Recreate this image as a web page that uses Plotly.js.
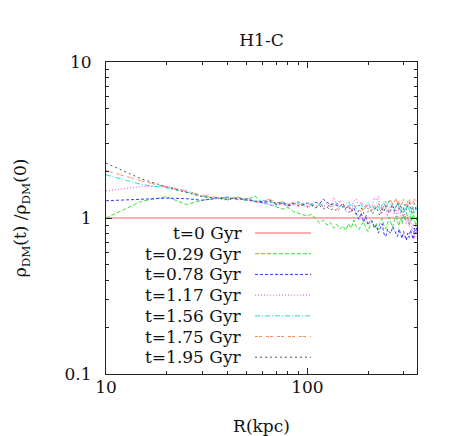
<!DOCTYPE html>
<html>
<head>
<meta charset="utf-8">
<script src="https://cdn.plot.ly/plotly-3.0.1.min.js"></script>
<style>html,body{margin:0;padding:0;background:#fff;}#chart{width:476px;height:436px;}</style>
</head>
<body>
<div id="chart"></div>
<script>
// Radius grid (kpc)
var radius = [
  10, 15, 20, 25, 30, 35, 40, 45, 50, 55,
  60, 65, 70, 75, 80, 85, 90, 95, 100, 105,
  110, 115, 120, 125, 130, 135, 140, 145, 150, 155,
  160, 165, 170, 175, 180, 185, 190, 195, 200, 205,
  210, 215, 220, 225, 230, 235, 240, 245, 250, 255,
  260, 265, 270, 275, 280, 285, 290, 295, 300, 305,
  310, 315, 320, 325, 330, 335, 340, 345, 350
];

var labels = ["t=0 Gyr", "t=0.29 Gyr", "t=0.78 Gyr", "t=1.17 Gyr", "t=1.56 Gyr", "t=1.75 Gyr", "t=1.95 Gyr"];

// t=0: reference profile, ratio 1 everywhere
var radius_t0 = [10, 350];
var ratio_t0 = [1, 1];

var ratio_t029 = [
  1.00, 1.28, 1.37, 1.22, 1.30, 1.34, 1.32, 1.36, 1.31, 1.38,
  1.25, 1.22, 1.18, 1.14, 1.17, 1.10, 1.08, 1.05, 1.03, 1.06,
  0.98, 0.93, 0.97, 0.90, 0.94, 0.86, 0.91, 0.85, 0.89, 0.83,
  0.92, 0.86, 0.97, 0.88, 0.84, 0.90, 0.95, 0.86, 0.82, 0.90,
  0.96, 0.87, 0.92, 0.84, 0.95, 0.99, 0.89, 0.85, 0.93, 1.01,
  0.93, 0.87, 0.96, 1.03, 0.94, 0.89, 1.00, 0.92, 1.06, 0.96,
  1.08, 0.98, 0.91, 1.04, 0.95, 1.10, 0.99, 0.88, 1.05
];

var ratio_t078 = [
  1.29, 1.32, 1.34, 1.33, 1.30, 1.33, 1.36, 1.31, 1.33, 1.28,
  1.25, 1.28, 1.22, 1.24, 1.19, 1.23, 1.27, 1.21, 1.25, 1.22,
  1.26, 1.24, 1.32, 1.26, 1.22, 1.23, 1.21, 1.18, 1.24, 1.15,
  1.20, 1.10, 1.16, 1.05, 0.98, 1.08, 0.94, 1.02, 0.90, 0.97,
  0.95, 0.86, 0.90, 0.80, 0.87, 0.92, 0.79, 0.76, 0.85, 0.81,
  0.80, 0.88, 0.84, 0.79, 0.76, 0.85, 0.80, 0.74, 0.82, 0.77,
  0.72, 0.80, 0.75, 0.84, 0.78, 0.73, 0.86, 0.79, 0.88
];

var ratio_t117 = [
  1.49, 1.59, 1.60, 1.49, 1.38, 1.34, 1.30, 1.36, 1.31, 1.26,
  1.27, 1.22, 1.20, 1.24, 1.19, 1.22, 1.18, 1.21, 1.17, 1.20,
  1.16, 1.22, 1.18, 1.24, 1.17, 1.36, 1.20, 1.30, 1.19, 1.15,
  1.22, 1.12, 1.28, 1.32, 1.18, 1.26, 1.22, 1.15, 1.24, 1.18,
  1.20, 1.35, 1.30, 1.38, 1.12, 1.08, 1.24, 1.15, 1.02, 1.18,
  1.10, 1.22, 1.05, 1.14, 0.98, 1.20, 1.08, 0.95, 1.12, 1.02,
  0.92, 1.05, 0.88, 0.98, 0.82, 0.92, 0.74, 0.86, 0.80
];

var ratio_t156 = [
  1.89, 1.64, 1.56, 1.47, 1.38, 1.33, 1.36, 1.32, 1.30, 1.28,
  1.30, 1.26, 1.24, 1.27, 1.22, 1.25, 1.21, 1.24, 1.20, 1.23,
  1.19, 1.24, 1.20, 1.17, 1.22, 1.18, 1.25, 1.20, 1.16, 1.22,
  1.28, 1.18, 1.22, 1.15, 1.20, 1.24, 1.12, 1.18, 1.26, 1.16,
  1.20, 1.13, 1.24, 1.18, 1.10, 1.22, 1.28, 1.16, 1.21, 1.30,
  1.18, 1.24, 1.12, 1.20, 1.27, 1.15, 1.10, 1.22, 1.18, 1.08,
  1.16, 1.24, 1.12, 1.05, 1.20, 1.14, 1.08, 1.18, 1.12
];

var ratio_t175 = [
  2.01, 1.73, 1.58, 1.49, 1.40, 1.36, 1.31, 1.35, 1.32, 1.27,
  1.28, 1.32, 1.25, 1.27, 1.22, 1.26, 1.23, 1.20, 1.24, 1.21,
  1.18, 1.22, 1.19, 1.16, 1.21, 1.17, 1.14, 1.19, 1.22, 1.15,
  1.18, 1.12, 1.16, 1.20, 1.13, 1.10, 1.17, 1.22, 1.14, 1.18,
  1.12, 1.20, 1.15, 1.24, 1.17, 1.11, 1.22, 1.28, 1.19, 1.25,
  1.30, 1.21, 1.26, 1.33, 1.22, 1.28, 1.18, 1.25, 1.32, 1.24,
  1.20, 1.28, 1.34, 1.22, 1.30, 1.25, 1.32, 1.26, 1.30
];

var ratio_t195 = [
  2.25, 1.78, 1.58, 1.46, 1.37, 1.35, 1.32, 1.34, 1.30, 1.28,
  1.27, 1.30, 1.24, 1.26, 1.21, 1.24, 1.20, 1.22, 1.18, 1.21,
  1.16, 1.20, 1.14, 1.18, 1.12, 1.16, 1.10, 1.15, 1.19, 1.12,
  1.08, 1.14, 1.10, 1.05, 1.12, 1.16, 1.08, 1.02, 1.10, 1.14,
  1.06, 1.12, 1.18, 1.08, 1.03, 1.15, 1.10, 1.20, 1.12, 1.07,
  1.16, 1.22, 1.10, 1.18, 1.25, 1.14, 1.20, 1.08, 1.16, 1.22,
  1.12, 1.20, 1.26, 1.15, 1.08, 1.18, 1.24, 1.14, 1.20
];

var colors = ["#f06060", "#33e633", "#3a3aff", "#ee44ee", "#22dddd", "#ff8a55", "#555555"];
var dashes = ["solid", "4px,2px", "3px,2px", "1px,2px", "5px,2px,1px,2px", "3px,1px,3px,4px", "2px,3px"];

var xs = [radius_t0, radius, radius, radius, radius, radius, radius];
var ys = [ratio_t0, ratio_t029, ratio_t078, ratio_t117, ratio_t156, ratio_t175, ratio_t195];

var traces = [];
for (var i = 0; i < ys.length; i++) {
  traces.push({
    x: xs[i], y: ys[i], type: "scatter", mode: "lines", name: labels[i],
    line: {color: colors[i], width: 1, dash: dashes[i]},
    showlegend: false, hoverinfo: "skip"
  });
}

// Legend drawn gnuplot-style: right-aligned label, sample line to its right
var annotations = [], shapes = [];
var rowTop = 233, rowStep = 20.7, plotTop = 62, plotH = 312, plotL = 106, plotW = 311;
for (var k = 0; k < labels.length; k++) {
  var ypx = rowTop + k * rowStep;
  var yp = 1 - (ypx - plotTop) / plotH;
  annotations.push({
    xref: "paper", yref: "paper", x: (244 - plotL) / plotW, y: yp,
    xanchor: "right", yanchor: "middle", text: labels[k], showarrow: false,
    font: {family: "DejaVu Serif", size: 17, color: "#111"}
  });
  shapes.push({
    type: "line", xref: "paper", yref: "paper",
    x0: (255 - plotL) / plotW, x1: (311 - plotL) / plotW, y0: yp, y1: yp,
    line: {color: colors[k], width: 1, dash: dashes[k]}
  });
}

var xMinor = [20, 30, 40, 50, 60, 70, 80, 90, 200, 300];
var yMinor = [0.2, 0.3, 0.4, 0.5, 0.6, 0.7, 0.8, 0.9, 2, 3, 4, 5, 6, 7, 8, 9];

var layout = {
  width: 476, height: 436,
  margin: {l: 106, r: 59, t: 62, b: 62},
  paper_bgcolor: "#fff", plot_bgcolor: "#fff",
  font: {family: "DejaVu Serif", size: 17, color: "#111"},
  title: {text: "H1-C", x: 0.5, xref: "paper", y: (436 - 40) / 436, yref: "container", yanchor: "middle",
          font: {family: "DejaVu Serif", size: 17, color: "#111"}},
  xaxis: {
    type: "log", range: [1, Math.log10(350)],
    tickmode: "array", tickvals: [10, 100], ticktext: ["10", "100"],
    ticks: "inside", ticklen: 6, tickwidth: 1, tickcolor: "#222",
    minor: {tickmode: "array", tickvals: xMinor, ticks: "inside", ticklen: 3, tickcolor: "#222"},
    showline: true, linecolor: "#222", linewidth: 1, mirror: "allticks",
    showgrid: false, zeroline: false, ticklabelstandoff: -2,
    title: {text: "R(kpc)", standoff: 24, font: {family: "DejaVu Serif", size: 17}}
  },
  yaxis: {
    type: "log", range: [-1, 1],
    tickmode: "array", tickvals: [0.1, 1, 10], ticktext: ["0.1", "1", "10"],
    ticks: "inside", ticklen: 6, tickwidth: 1, tickcolor: "#222",
    minor: {tickmode: "array", tickvals: yMinor, ticks: "inside", ticklen: 3, tickcolor: "#222"},
    showline: true, linecolor: "#222", linewidth: 1, mirror: "allticks",
    showgrid: false, zeroline: false, ticklabelstandoff: 10,
    title: {text: "ρ<sub>DM</sub>(t) /ρ<sub>DM</sub>(0)", standoff: 33, font: {family: "DejaVu Serif", size: 17}}
  },
  annotations: annotations,
  shapes: shapes,
  showlegend: false
};

Plotly.newPlot("chart", traces, layout, {displayModeBar: false, staticPlot: true});
</script>
</body>
</html>
